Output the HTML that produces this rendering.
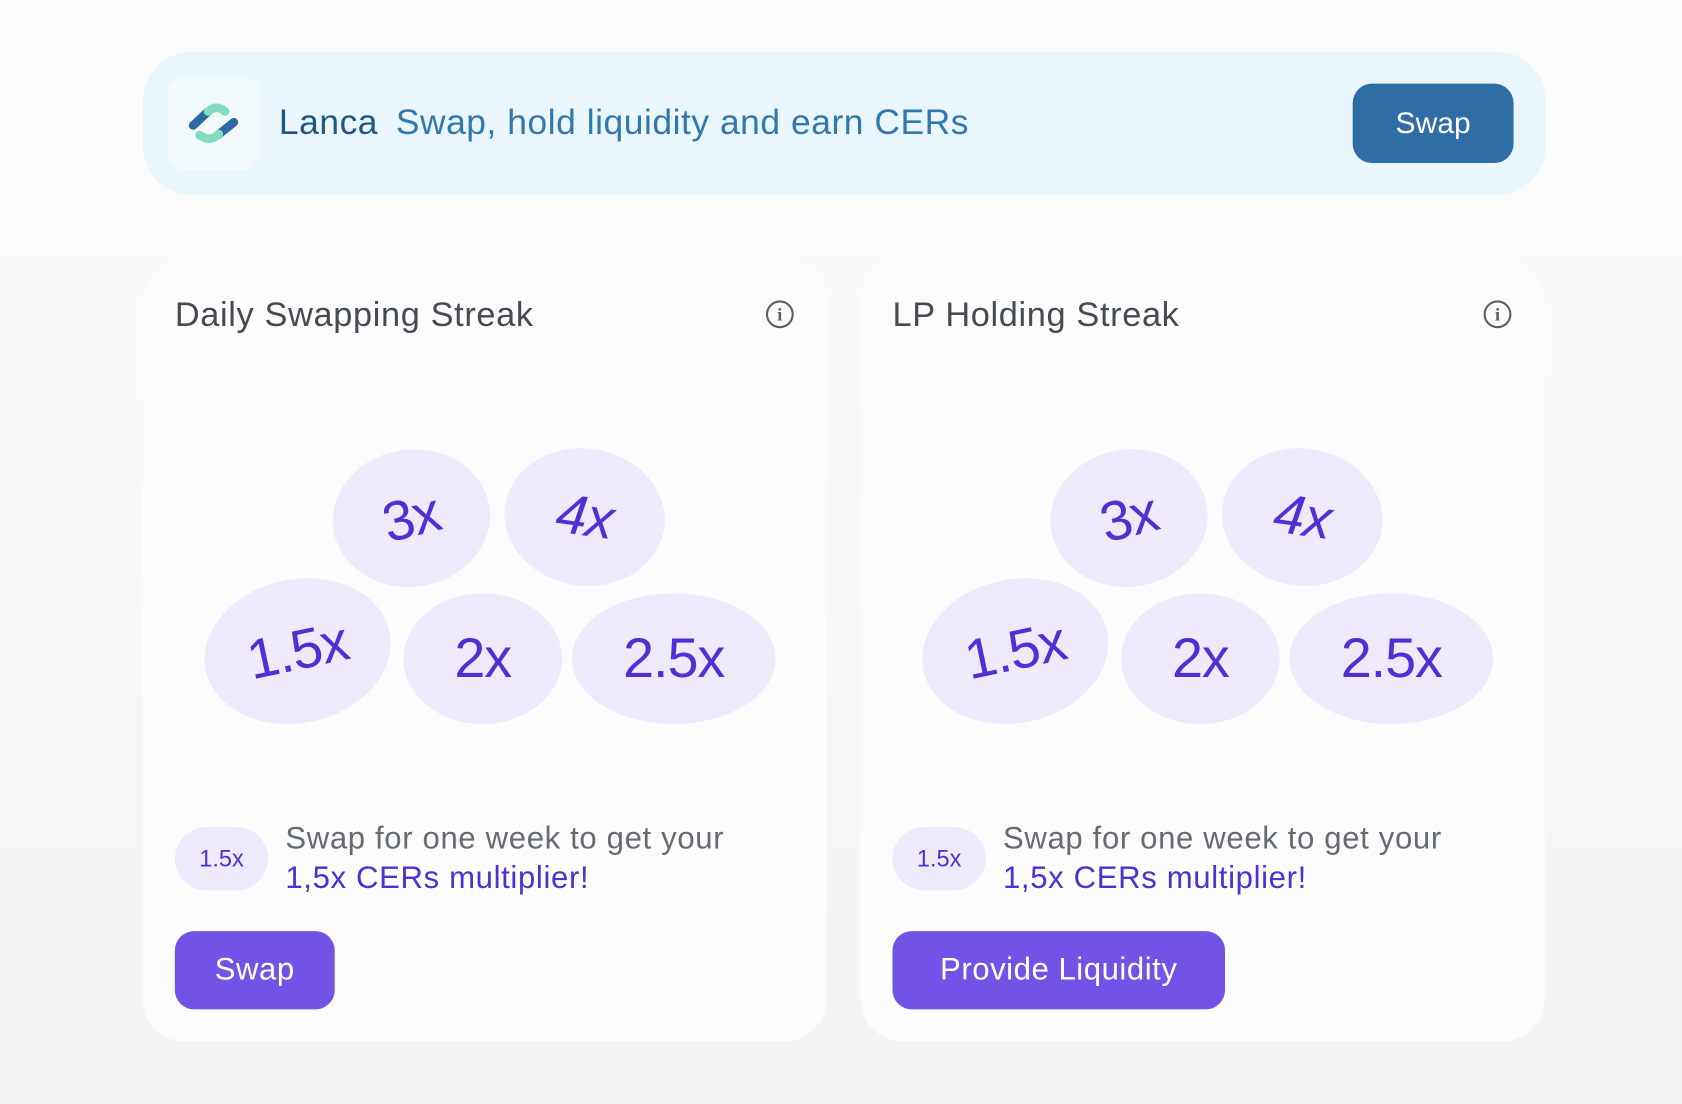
<!DOCTYPE html>
<html><head><meta charset="utf-8"><style>
html,body{margin:0;padding:0;width:1682px;height:1104px;overflow:hidden;background:linear-gradient(#fdfdfd,#f3f3f5);}
#s{position:absolute;left:0;top:0;width:1568px;height:1029px;transform:scale(1.0727);transform-origin:0 0;font-family:"Liberation Sans",sans-serif;}
.a{position:absolute;white-space:nowrap;}
.hdr{left:133px;top:48px;width:1308px;height:134px;border-radius:46px;background:#e9f6fd;}
.logo{left:156px;top:71px;width:87px;height:88px;border-radius:18px;background:#f2fafe;}
.card{top:243px;width:638px;height:728px;border-radius:40px;background:#fcfcfd;}
.b{position:absolute;background:#eeeafc;border-radius:50%;display:flex;align-items:center;justify-content:center;color:#4f2fd6;font-size:52px;letter-spacing:-1px;}
.ttl{font-size:32px;letter-spacing:0.6px;color:#454b52;}
.info{width:22px;height:22px;border:2.5px solid #5a6068;border-radius:50%;color:#5a6068;font-size:17px;font-weight:bold;text-align:center;line-height:23px;font-family:"Liberation Serif",serif;}
.pill{width:87px;height:59px;border-radius:30px;background:#eeeafc;color:#4f2fd6;font-size:22px;display:flex;align-items:center;justify-content:center;}
.d1{font-size:29px;letter-spacing:0.6px;color:#656b70;}
.d2{font-size:29px;letter-spacing:0.6px;color:#4f2fd6;}
.btn{height:73px;border-radius:18px;background:#7353e5;color:#fff;font-size:29px;letter-spacing:0.5px;display:flex;align-items:center;justify-content:center;}
</style></head><body><div id="s">
<div class="a hdr"></div>
<div class="a logo"><svg width="87" height="88" viewBox="0 0 87 88"><path d="M24 46 L38 33" stroke="#2e6aa6" stroke-width="8" stroke-linecap="round"/><path d="M38 33 Q46 26 54 33" stroke="#84dcc0" stroke-width="8" fill="none" stroke-linecap="round"/><path d="M47 55 L62 43" stroke="#2e6aa6" stroke-width="8" stroke-linecap="round"/><path d="M30 55 Q40 62 48 54" stroke="#84dcc0" stroke-width="8" fill="none" stroke-linecap="round"/></svg></div>
<div class="a" style="left:260px;top:95px;font-size:33px;letter-spacing:0.5px;color:#1f5785;">Lanca</div>
<div class="a" style="left:369px;top:95px;font-size:33px;letter-spacing:0.5px;color:#3178ad;">Swap, hold liquidity and earn CERs</div>
<div class="a" style="left:1261px;top:78px;width:150px;height:74px;border-radius:18px;background:#2f6ea4;color:#fff;font-size:28px;display:flex;align-items:center;justify-content:center;">Swap</div>

<div class="a card" style="left:133px;"></div>
<div class="a card" style="left:802px;"></div>

<div class="a" style="left:0;top:0;">
<div class="a ttl" style="left:163px;top:275px;">Daily Swapping Streak</div>
<div class="a info" style="left:714px;top:280px;">i</div>
<div class="b" style="left:310px;top:419px;width:147px;height:128px;transform:rotate(-8deg)"><span style="transform:rotate(-6deg)">3x</span></div>
<div class="b" style="left:470px;top:418px;width:150px;height:128px;transform:rotate(8deg)"><span style="font-style:italic">4x</span></div>
<div class="b" style="left:190px;top:540px;width:175px;height:134px;transform:rotate(-12deg)">1.5x</div>
<div class="b" style="left:376px;top:553px;width:148px;height:122px;">2x</div>
<div class="b" style="left:533px;top:553px;width:190px;height:122px;">2.5x</div>
<div class="a pill" style="left:163px;top:771px;">1.5x</div>
<div class="a d1" style="left:266px;top:766px;">Swap for one week to get your</div>
<div class="a d2" style="left:266px;top:803px;">1,5x CERs multiplier!</div>
<div class="a btn" style="left:163px;top:868px;width:149px;">Swap</div>
</div>

<div class="a" style="left:669px;top:0;">
<div class="a ttl" style="left:163px;top:275px;">LP Holding Streak</div>
<div class="a info" style="left:714px;top:280px;">i</div>
<div class="b" style="left:310px;top:419px;width:147px;height:128px;transform:rotate(-8deg)"><span style="transform:rotate(-6deg)">3x</span></div>
<div class="b" style="left:470px;top:418px;width:150px;height:128px;transform:rotate(8deg)"><span style="font-style:italic">4x</span></div>
<div class="b" style="left:190px;top:540px;width:175px;height:134px;transform:rotate(-12deg)">1.5x</div>
<div class="b" style="left:376px;top:553px;width:148px;height:122px;">2x</div>
<div class="b" style="left:533px;top:553px;width:190px;height:122px;">2.5x</div>
<div class="a pill" style="left:163px;top:771px;">1.5x</div>
<div class="a d1" style="left:266px;top:766px;">Swap for one week to get your</div>
<div class="a d2" style="left:266px;top:803px;">1,5x CERs multiplier!</div>
<div class="a btn" style="left:163px;top:868px;width:310px;">Provide Liquidity</div>
</div>
</div></body></html>
